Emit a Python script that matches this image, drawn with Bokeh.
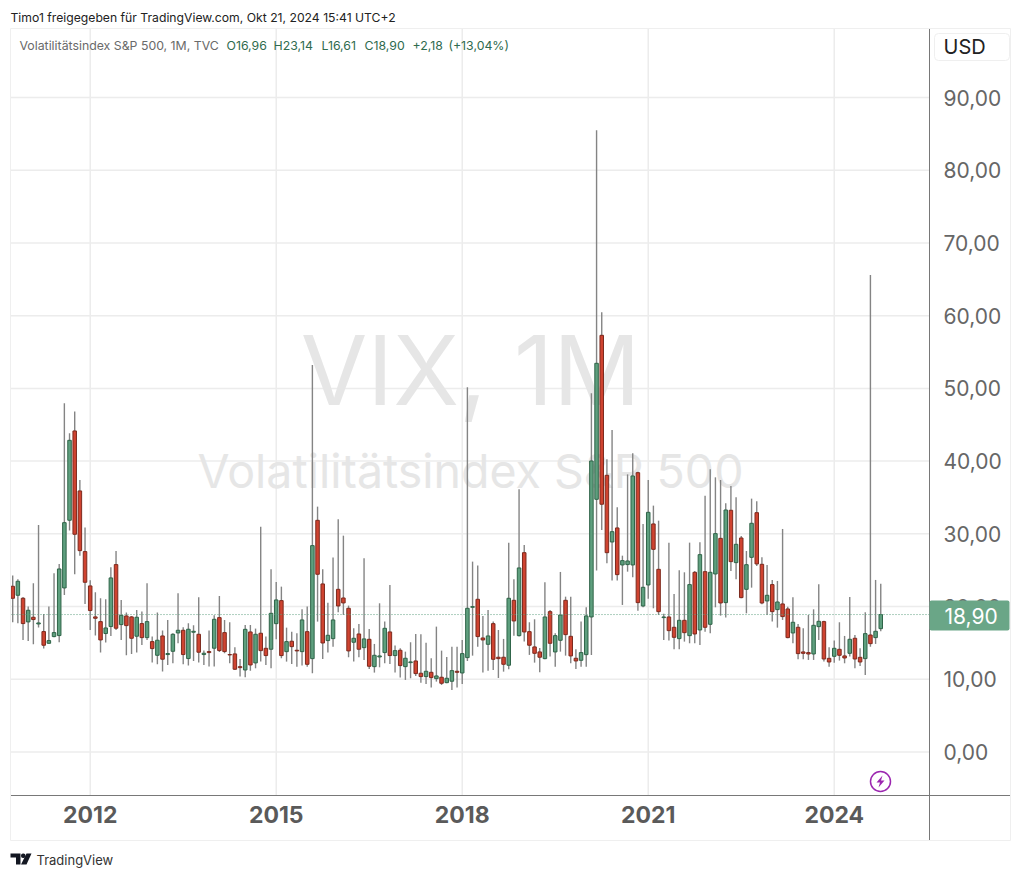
#!/usr/bin/env python3
import numpy as np
from bokeh.embed import file_html
from bokeh.models import (BoxAnnotation, ColumnDataSource, FixedTicker, Label,
                          PolyAnnotation, Range1d)
from bokeh.plotting import figure
from bokeh.resources import INLINE

# ---------- data: monthly VIX candles, Oct 2010 .. Oct 2024 ----------
opens = [
    22.79, 21.55, 21.14, 17.89, 18.53, 17.61, 16.56, 14.95, 15.87, 16.01,
    22.56, 31.87, 44.15, 35.9, 27.56, 22.84, 18.58, 17.93, 16.29, 17.25,
    25.77, 17.52, 18.71, 18.58, 15.92, 17.66, 15.73, 15.18, 13.3, 15.96,
    13.4, 13.85, 16.37, 16.74, 12.85, 16.47, 16.19, 13.4, 13.81, 14.27,
    18.48, 16.42, 13.4, 13.49, 11.74, 11.28, 16.51, 12.25, 16.33, 14.26,
    14.13, 17.65, 20.82, 13.8, 15.23, 13.99, 13.8, 16.55, 12.84, 31.86,
    23.11, 15.32, 15.59, 22.37, 21.18, 19.76, 15.09, 16.23, 14.35, 15.5,
    11.74, 13.07, 13.67, 16.51, 13.26, 13.99, 11.74, 12.29, 12.52, 10.83,
    10.37, 10.96, 10.09, 10.28, 9.54, 9.73, 11.1, 10.87, 12.98, 19.9,
    21.0, 15.68, 14.81, 17.65, 13.03, 13.03, 11.93, 20.86, 16.0, 27.41,
    16.55, 14.45, 13.76, 12.84, 19.3, 13.76, 15.36, 20.86, 15.91, 12.89,
    12.61, 13.39, 18.57, 34.75, 57.3, 38.05, 28.88, 30.81, 25.72, 25.77,
    25.72, 38.41, 20.08, 22.97, 31.36, 25.12, 18.48, 18.57, 17.15, 15.59,
    18.11, 16.0, 24.71, 16.78, 24.8, 17.56, 24.48, 29.38, 20.54, 33.24,
    26.04, 29.43, 22.37, 26.77, 32.91, 25.81, 20.77, 23.02, 19.58, 20.36,
    19.67, 16.37, 17.15, 13.76, 13.67, 13.48, 17.24, 17.93, 12.88, 13.16,
    14.12, 13.21, 13.57, 15.64, 13.02, 12.84, 16.09, 15.73, 16.96,
]
closes = [
    21.14, 23.48, 17.66, 19.49, 18.21, 17.75, 14.68, 15.32, 16.42, 25.17,
    31.54, 42.86, 29.94, 27.69, 23.34, 19.45, 18.39, 15.41, 17.06, 23.94,
    17.02, 18.8, 17.38, 15.64, 18.53, 15.73, 17.93, 14.22, 15.37, 12.76,
    13.54, 16.19, 16.74, 13.4, 16.88, 16.6, 13.72, 13.58, 13.67, 18.25,
    13.95, 13.81, 13.35, 11.38, 11.6, 16.87, 11.97, 16.19, 13.94, 13.26,
    19.07, 20.91, 13.26, 15.18, 14.49, 13.9, 18.16, 12.06, 28.38, 24.44,
    14.99, 16.05, 18.16, 20.08, 20.5, 13.9, 15.64, 14.13, 15.55, 11.79,
    13.3, 13.21, 17.01, 13.26, 13.94, 11.88, 12.89, 12.39, 10.78, 10.37,
    11.1, 10.23, 10.46, 9.45, 10.14, 11.19, 10.96, 13.53, 19.76, 19.99,
    15.87, 15.41, 15.96, 12.75, 12.84, 12.06, 21.14, 18.02, 25.31, 16.51,
    14.68, 13.57, 13.03, 18.57, 14.95, 16.0, 18.84, 16.14, 13.21, 12.52,
    13.67, 18.71, 40.02, 53.45, 34.07, 27.41, 30.3, 24.39, 26.32, 26.27,
    37.96, 20.54, 22.65, 32.96, 27.87, 19.3, 18.57, 16.69, 15.77, 18.11,
    16.41, 23.02, 16.23, 27.14, 17.15, 24.71, 30.03, 20.49, 33.28, 26.18,
    28.56, 21.23, 25.76, 31.45, 25.86, 20.49, 21.55, 19.3, 20.63, 18.62,
    15.73, 17.84, 13.53, 13.57, 13.48, 17.42, 17.97, 12.79, 12.38, 14.26,
    13.3, 12.93, 15.5, 12.79, 12.38, 16.28, 14.9, 16.6, 18.9,
]
highs = [
    24.26, 23.75, 21.33, 20.0, 23.2, 31.2, 18.99, 20.0, 24.58, 25.86,
    47.95, 43.83, 46.81, 37.41, 30.86, 23.62, 21.97, 21.14, 21.0, 25.4,
    27.65, 20.91, 19.17, 18.71, 19.54, 19.31, 23.2, 15.87, 19.17, 16.7,
    18.16, 16.33, 21.83, 17.16, 17.7, 17.43, 21.28, 13.95, 16.7, 18.8,
    21.46, 18.16, 17.84, 14.4, 12.8, 17.47, 17.47, 16.97, 30.99, 15.87,
    25.12, 23.38, 22.74, 17.1, 16.55, 16.32, 19.63, 20.0, 53.22, 33.74,
    25.12, 20.54, 26.73, 32.0, 29.75, 20.13, 17.01, 17.61, 26.64, 16.92,
    14.86, 20.45, 17.93, 22.97, 14.63, 14.26, 13.8, 15.09, 16.23, 16.19,
    15.04, 12.89, 17.24, 13.94, 13.07, 14.49, 14.49, 15.41, 50.15, 26.18,
    25.63, 18.71, 19.53, 17.93, 16.78, 15.55, 28.79, 23.75, 36.12, 28.47,
    17.84, 18.25, 14.31, 23.34, 19.53, 16.33, 24.76, 21.36, 21.36, 14.13,
    17.93, 19.9, 49.32, 85.5, 60.46, 40.25, 44.28, 33.65, 27.0, 38.18,
    41.07, 38.55, 31.36, 37.41, 33.88, 31.81, 19.0, 28.79, 21.73, 24.99,
    24.71, 28.79, 24.9, 28.83, 35.25, 38.87, 37.77, 37.4, 34.2, 36.58,
    35.02, 29.71, 27.64, 34.84, 34.47, 26.77, 25.72, 23.66, 23.52, 30.67,
    19.99, 21.27, 17.61, 17.01, 18.84, 19.62, 23.06, 18.06, 14.4, 15.32,
    17.84, 15.96, 21.32, 16.09, 14.26, 19.21, 65.6, 23.66, 23.14,
]
lows = [
    17.84, 17.7, 15.41, 15.27, 14.82, 17.11, 14.22, 14.9, 15.78, 15.09,
    21.6, 30.45, 24.44, 27.0, 20.36, 16.79, 16.01, 13.67, 15.05, 15.96,
    16.79, 15.41, 13.3, 13.49, 13.67, 14.73, 15.41, 12.3, 12.07, 11.06,
    11.98, 12.2, 14.95, 12.07, 11.88, 12.53, 12.3, 11.98, 11.75, 11.75,
    13.76, 13.58, 12.2, 11.29, 10.37, 10.28, 11.19, 11.51, 12.43, 11.97,
    11.51, 15.5, 12.89, 12.43, 12.11, 11.74, 11.88, 11.74, 10.83, 17.93,
    12.8, 13.67, 14.49, 19.21, 18.85, 13.03, 12.43, 13.03, 12.66, 11.42,
    10.92, 11.65, 12.2, 12.11, 10.92, 10.23, 9.91, 10.14, 10.46, 9.54,
    9.36, 8.86, 9.68, 9.22, 9.45, 8.53, 8.86, 9.36, 12.52, 13.25,
    14.49, 10.92, 11.19, 11.28, 10.18, 11.05, 11.38, 16.0, 15.9, 15.18,
    13.35, 12.29, 10.96, 12.75, 13.12, 11.74, 13.8, 13.25, 12.2, 11.42,
    11.74, 11.74, 13.35, 24.95, 30.54, 25.95, 23.57, 23.57, 20.22, 24.8,
    24.02, 19.44, 19.9, 21.09, 19.76, 18.85, 15.41, 15.32, 14.13, 14.12,
    15.18, 14.95, 14.95, 14.72, 16.55, 16.32, 19.9, 18.75, 18.48, 24.9,
    23.75, 21.14, 19.07, 22.6, 25.58, 20.31, 18.84, 17.93, 17.1, 18.16,
    15.64, 14.95, 12.75, 12.75, 12.66, 12.66, 15.41, 12.43, 11.74, 12.29,
    12.57, 12.2, 13.12, 11.51, 11.83, 10.6, 14.49, 14.86, 16.61,
]
year_months = [15, 51, 87, 123, 159]   # candle index of each January
year_labels = ["2012", "2015", "2018", "2021", "2024"]
price_ticks = [0, 10, 20, 30, 40, 50, 60, 70, 80, 90]
price_labels = ["0,00", "10,00", "20,00", "30,00", "40,00", "50,00", "60,00", "70,00", "80,00", "90,00"]

GREEN, GREEN_DARK = "#5e9f7e", "#2f6448"
RED, RED_DARK = "#cf4330", "#7d2a1e"
FONT = "Inter"
WIDTH, HEIGHT = 1016, 869
PANE_LEFT, PANE_RIGHT, PANE_TOP, PANE_BOTTOM = 10, 929, 28, 795

# ---------- page pixels to data units ----------
def xd(px):
    return (px - 12.2) / 5.167

def yd(py):
    return (751.5 - py) / 7.272

source = ColumnDataSource(dict(
    x=np.arange(len(opens)),
    open=opens, close=closes, high=highs, low=lows,
    fill=[GREEN if c >= o else RED for o, c in zip(opens, closes)],
    edge=[GREEN_DARK if c >= o else RED_DARK for o, c in zip(opens, closes)],
))

# the frame fills the whole canvas: annotations get clipped to it, so header,
# price tag and logo all have to live inside. Axes are pinned where the chart has them.
p = figure(width=WIDTH, height=HEIGHT, output_backend="svg", toolbar_location=None,
           x_range=Range1d(xd(0), xd(WIDTH)), y_range=Range1d(yd(HEIGHT), yd(0)),
           y_axis_location="right", min_border=0, outline_line_color=None)

# ---------- axes and grid ----------
p.xaxis.fixed_location = yd(PANE_BOTTOM)
p.xaxis.bounds = (xd(PANE_LEFT), xd(1010))
p.xaxis.ticker = FixedTicker(ticks=year_months)
p.xaxis.major_label_overrides = dict(zip(year_months, year_labels))
p.xaxis.major_label_text_font = FONT
p.xaxis.major_label_text_font_style = "bold"
p.xaxis.major_label_text_font_size = "23px"
p.xaxis.major_label_text_color = "#5a5a5a"
p.xaxis.major_label_standoff = 10
p.yaxis.fixed_location = xd(PANE_RIGHT)
p.yaxis.bounds = (yd(840), yd(PANE_TOP))
p.yaxis.ticker = FixedTicker(ticks=price_ticks)
p.yaxis.major_label_overrides = dict(zip(price_ticks, price_labels))
p.yaxis.major_label_text_font = FONT
p.yaxis.major_label_text_font_size = "21px"
p.yaxis.major_label_text_color = "#666666"
p.yaxis.major_label_standoff = 14
p.axis.major_tick_in = 0
p.axis.major_tick_out = 0
p.axis.minor_tick_line_color = None
p.axis.major_tick_line_color = None
p.axis.axis_line_color = "#787878"
p.grid.visible = False

# grid stops at the price and time axes, which the built-in one would not
p.segment(x0=year_months, y0=yd(PANE_BOTTOM), x1=year_months, y1=yd(PANE_TOP),
          line_color="#ececec", line_width=1.5, level="underlay")
p.segment(x0=xd(PANE_LEFT), y0=price_ticks, x1=xd(PANE_RIGHT), y1=price_ticks,
          line_color="#ececec", line_width=1.5, level="underlay")


def text(px, py, s, size, color, align="left", style="normal", level="annotation"):
    p.add_layout(Label(x=xd(px), y=yd(py), text=s, text_font=FONT, text_font_size=size,
                       text_color=color, text_align=align, text_baseline="middle",
                       text_font_style=style, level=level))


def box(x0, y0, x1, y1, fill, line=None, radius=0):
    p.add_layout(BoxAnnotation(left=xd(x0), right=xd(x1), top=yd(y0), bottom=yd(y1),
                               fill_color=fill, fill_alpha=1 if fill else 0,
                               line_color=line, line_alpha=1 if line else 0,
                               line_width=1, border_radius=radius))


# ---------- watermark ----------
text(470, 369, "VIX, 1M", "96.5px", "#e6e6e6", align="center", level="underlay")
text(470, 470, "Volatilitätsindex S&P 500", "46.5px", "#e6e6e6", align="center", level="underlay")

# ---------- candles ----------
p.segment("x", "high", "x", "low", source=source, line_color="#848484", line_width=1.4)
p.vbar(x="x", bottom="open", top="close", width=0.68, source=source,
       fill_color="fill", line_color="edge", line_width=1)
p.segment(x0=[xd(PANE_LEFT)], y0=[closes[-1]], x1=[xd(PANE_RIGHT)], y1=[closes[-1]],
          line_color="#5e9f7e", line_dash="1 2", line_width=1)

# ---------- frame ----------
box(10, 28, 1010, 840, None, line="#efefef")

# ---------- header ----------
text(10, 17, "Timo1 freigegeben für TradingView.com, Okt 21, 2024 15:41 UTC+2", "12.2px", "#222222")
text(19, 45, "Volatilitätsindex S&P 500, 1M, TVC", "12.3px", "#6a6a6a")
for px, s in [(226, "O16,96"), (273, "H23,14"), (321, "L16,61"), (364, "C18,90"),
              (412, "+2,18"), (448, "(+13,04%)")]:
    text(px, 45, s, "12.3px", "#2f6b4e")

# ---------- right side ----------
box(934, 33, 1009, 60, "#ffffff", line="#efefef", radius=4)
text(943, 46, "USD", "20px", "#222222")
box(929, 600, 1009, 630, "#6aa687", radius=2)
text(944, 615, "18,90", "21px", "#ffffff")

# ---------- purple bolt marker ----------
p.scatter([xd(880)], [yd(781)], size=20, marker="circle", fill_color="#ffffff",
          line_color="#9c27b0", line_width=1.5)
p.patch([xd(v) for v in (882, 876, 879.5, 878, 884, 880.5)],
        [yd(v) for v in (775, 782, 782, 787, 780, 780)], fill_color="#9c27b0", line_color=None)

# ---------- TradingView logo ----------
for xs, ys in [((10, 20, 20, 15.5, 15.5, 10), (853, 853, 864, 864, 857, 857)),
               ((26, 31, 26, 20.5), (853, 853, 864, 864))]:
    p.add_layout(PolyAnnotation(xs=[xd(v) for v in xs], ys=[yd(v) for v in ys],
                                fill_color="#131722", fill_alpha=1, line_color=None))
p.add_layout(BoxAnnotation(left=xd(20.5), right=xd(25), top=yd(853), bottom=yd(857.5),
                           fill_color="#131722", fill_alpha=1, line_color=None, border_radius=2))
text(36, 859, "TradingView", "13px", "#333333")

open("out.html", "w").write(file_html(p, INLINE))
